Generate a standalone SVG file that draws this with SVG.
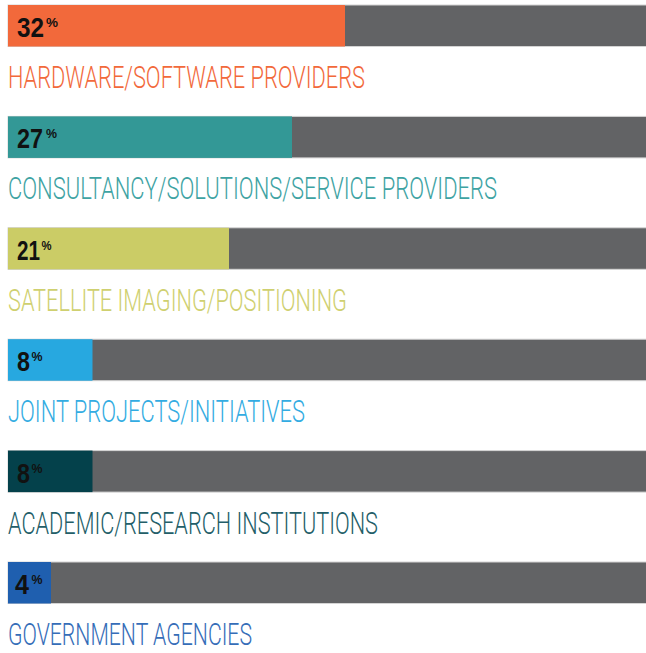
<svg xmlns="http://www.w3.org/2000/svg" width="646" height="653" viewBox="0 0 646 653">
<style>
.bg{fill:#626365;stroke:#d4d4d4;stroke-width:1}
.num{font-family:"Liberation Sans",Arial,sans-serif;font-weight:bold;font-size:28px;fill:#111}
.pct{font-family:"Liberation Sans",Arial,sans-serif;font-weight:bold;font-size:13px;fill:#111}
.lbl{font-family:Roboto,"Liberation Sans",Arial,sans-serif;font-weight:300;font-size:31px}
</style>
<rect width="646" height="653" fill="#fff"/>
<g id="bar1">
<rect class="bg" x="8" y="5" width="640" height="41.5"/>
<rect x="8" y="5" width="337" height="41.5" fill="#F2693B"/>
<text class="num" x="17" y="37" textLength="27" lengthAdjust="spacingAndGlyphs">32</text>
<text class="pct" x="46" y="27" textLength="12" lengthAdjust="spacingAndGlyphs">%</text>
<text class="lbl" x="8" y="88" fill="#F2693B" textLength="357" lengthAdjust="spacingAndGlyphs">HARDWARE/SOFTWARE PROVIDERS</text>
</g>
<g id="bar2">
<rect class="bg" x="8" y="116.4" width="640" height="41.5"/>
<rect x="8" y="116.4" width="284" height="41.5" fill="#339896"/>
<text class="num" x="17" y="148.4" textLength="26" lengthAdjust="spacingAndGlyphs">27</text>
<text class="pct" x="46" y="138.4" textLength="11" lengthAdjust="spacingAndGlyphs">%</text>
<text class="lbl" x="8" y="199.4" fill="#3EA3A3" textLength="489" lengthAdjust="spacingAndGlyphs">CONSULTANCY/SOLUTIONS/SERVICE PROVIDERS</text>
</g>
<g id="bar3">
<rect class="bg" x="8" y="227.8" width="640" height="41.5"/>
<rect x="8" y="227.8" width="221" height="41.5" fill="#CBCC66"/>
<text class="num" x="17" y="259.8" textLength="23" lengthAdjust="spacingAndGlyphs">21</text>
<text class="pct" x="41.5" y="249.8" textLength="10" lengthAdjust="spacingAndGlyphs">%</text>
<text class="lbl" x="8" y="310.8" fill="#CFD070" textLength="339" lengthAdjust="spacingAndGlyphs">SATELLITE IMAGING/POSITIONING</text>
</g>
<g id="bar4">
<rect class="bg" x="8" y="339.2" width="640" height="41.5"/>
<rect x="8" y="339.2" width="84.5" height="41.5" fill="#27A8E0"/>
<text class="num" x="17" y="371.2" textLength="13" lengthAdjust="spacingAndGlyphs">8</text>
<text class="pct" x="31.5" y="361.2" textLength="11" lengthAdjust="spacingAndGlyphs">%</text>
<text class="lbl" x="8" y="422.2" fill="#33ACE2" textLength="297" lengthAdjust="spacingAndGlyphs">JOINT PROJECTS/INITIATIVES</text>
</g>
<g id="bar5">
<rect class="bg" x="8" y="450.6" width="640" height="41.5"/>
<rect x="8" y="450.6" width="84.5" height="41.5" fill="#04414B"/>
<text class="num" x="17" y="482.6" textLength="13" lengthAdjust="spacingAndGlyphs">8</text>
<text class="pct" x="31.5" y="472.6" textLength="11" lengthAdjust="spacingAndGlyphs">%</text>
<text class="lbl" x="8" y="533.6" fill="#235E68" textLength="370" lengthAdjust="spacingAndGlyphs">ACADEMIC/RESEARCH INSTITUTIONS</text>
</g>
<g id="bar6">
<rect class="bg" x="8" y="562" width="640" height="41.5"/>
<rect x="8" y="562" width="43" height="41.5" fill="#1F5FAF"/>
<text class="num" x="15" y="594" textLength="14" lengthAdjust="spacingAndGlyphs">4</text>
<text class="pct" x="31.5" y="584" textLength="11" lengthAdjust="spacingAndGlyphs">%</text>
<text class="lbl" x="8" y="645" fill="#356DB8" textLength="244" lengthAdjust="spacingAndGlyphs">GOVERNMENT AGENCIES</text>
</g>
<g id="connectors"/>
</svg>
